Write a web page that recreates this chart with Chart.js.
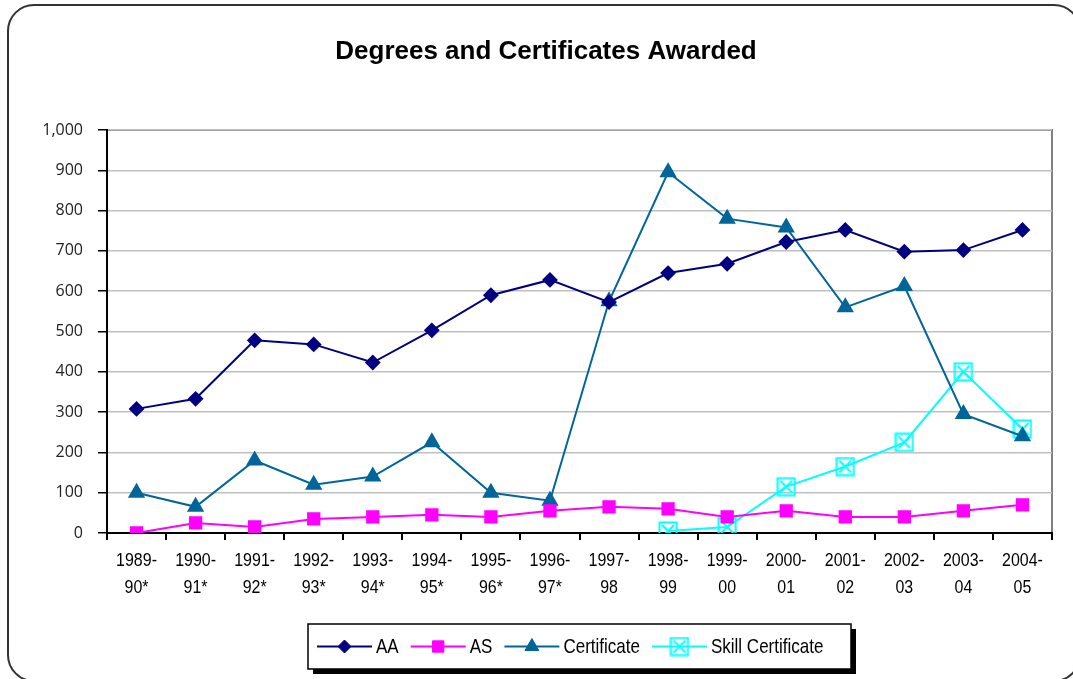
<!DOCTYPE html>
<html>
<head>
<meta charset="utf-8">
<script src="https://cdn.jsdelivr.net/npm/chart.js@4/dist/chart.umd.min.js"></script>
<style>
  html, body { margin: 0; padding: 0; background: #fff; }
  #wrap { width: 1073px; height: 679px; position: relative; }
</style>
</head>
<body>
<div id="wrap"><canvas id="degrees"></canvas></div>
<script>
var years = [["1989-","90*"],["1990-","91*"],["1991-","92*"],["1992-","93*"],["1993-","94*"],
             ["1994-","95*"],["1995-","96*"],["1996-","97*"],["1997-","98"],["1998-","99"],
             ["1999-","00"],["2000-","01"],["2001-","02"],["2002-","03"],["2003-","04"],["2004-","05"]];
var aa = [308, 333, 478, 468, 423, 503, 590, 628, 573, 645, 668, 722, 752, 698, 702, 752];
var as = [0, 25, 15, 35, 40, 45, 40, 55, 65, 60, 40, 55, 40, 40, 55, 70];
var certificate = [100, 65, 180, 120, 140, 225, 100, 80, 575, 895, 780, 758, 560, 613, 295, 240];
var skillCertificate = [null, null, null, null, null, null, null, null, null, 5, 15, 115, 165, 225, 400, 258];

var sans = "'Liberation Sans', Arial, sans-serif";

// hollow cyan box with an X, like the Excel marker
function boxX(size) {
    var c = document.createElement("canvas");
    c.width = size; c.height = size;
    var g = c.getContext("2d");
    g.strokeStyle = "#00FFFF";
    g.lineWidth = 2;
    g.strokeRect(1.5, 1.5, size - 3, size - 3);
    g.beginPath();
    g.moveTo(4, 4); g.lineTo(size - 4, size - 4);
    g.moveTo(size - 4, 4); g.lineTo(4, size - 4);
    g.stroke();
    return c;
}
var skillMarker = boxX(20);

// narrow text: regular sans squeezed sideways
function narrowText(ctx, text, x, y, squeeze, align) {
    var w = ctx.measureText(text).width * squeeze;
    var left = align === "center" ? x - w / 2 : x;
    ctx.save();
    ctx.translate(left, y);
    ctx.scale(squeeze, 1);
    ctx.textAlign = "left";
    ctx.fillText(text, 0, 0);
    ctx.restore();
    return w;
}

var frame = {
    id: "frame",
    beforeDraw: function(chart) {
        var ctx = chart.ctx, a = chart.chartArea;
        ctx.save();
        ctx.strokeStyle = "#333";
        ctx.lineWidth = 2;
        ctx.beginPath();
        ctx.roundRect(8, 5, 1072, 676, 26);
        ctx.stroke();
        // plot area top/right border
        ctx.strokeStyle = "#808080";
        ctx.beginPath();
        ctx.moveTo(a.left, a.top);
        ctx.lineTo(a.right, a.top);
        ctx.lineTo(a.right, a.bottom);
        ctx.stroke();
        // title, centred on the whole frame
        ctx.fillStyle = "#000";
        ctx.font = "bold 26px " + sans;
        ctx.textAlign = "center";
        ctx.textBaseline = "middle";
        ctx.fillText("Degrees and Certificates Awarded", 546, 52);
        ctx.restore();
    },
    afterDraw: function(chart) {
        var ctx = chart.ctx;
        var xs = chart.scales.x;

        // category labels
        ctx.save();
        ctx.fillStyle = "#000";
        ctx.font = "19px " + sans;
        ctx.textBaseline = "middle";
        years.forEach(function(lines, i) {
            var px = xs.getPixelForTick(i);
            narrowText(ctx, lines[0], px, 561, 0.84, "center");
            narrowText(ctx, lines[1], px, 588, 0.84, "center");
        });
        ctx.restore();

        // legend box
        var x0 = 308, y0 = 624, w = 543, h = 45;
        ctx.save();
        ctx.fillStyle = "#000";
        ctx.fillRect(x0 + 5, y0 + 5, w, h);
        ctx.fillStyle = "#fff";
        ctx.fillRect(x0, y0, w, h);
        ctx.strokeStyle = "#000";
        ctx.lineWidth = 1.5;
        ctx.strokeRect(x0, y0, w, h);
        ctx.font = "21px " + sans;
        ctx.textBaseline = "middle";
        var x = x0 + 9, cy = y0 + h / 2;
        chart.data.datasets.forEach(function(ds) {
            ctx.strokeStyle = ds.borderColor;
            ctx.fillStyle = ds.backgroundColor;
            ctx.lineWidth = 2;
            ctx.beginPath();
            ctx.moveTo(x, cy);
            ctx.lineTo(x + 55, cy);
            ctx.stroke();
            ctx.lineWidth = 1;
            Chart.helpers.drawPoint(ctx, {
                pointStyle: ds.pointStyle,
                radius: ds.pointRadius,
                borderWidth: 1,
                rotation: 0
            }, x + 27.5, cy);
            ctx.fillStyle = "#000";
            var tw = narrowText(ctx, ds.label, x + 59, cy + 1, 0.81, "left");
            x += 59 + tw + 12;
        });
        ctx.restore();
    }
};

new Chart(document.getElementById("degrees"), {
    type: "line",
    data: {
        labels: years,
        datasets: [
            {
                label: "AA", data: aa,
                borderColor: "#000080", backgroundColor: "#000080",
                pointStyle: "rectRot", pointRadius: 6.5, borderWidth: 2
            },
            {
                label: "AS", data: as,
                borderColor: "#FF00FF", backgroundColor: "#FF00FF",
                pointStyle: "rect", pointRadius: 8, borderWidth: 2
            },
            {
                label: "Certificate", data: certificate,
                borderColor: "#006699", backgroundColor: "#006699",
                pointStyle: "triangle", pointRadius: 8, borderWidth: 2
            },
            {
                label: "Skill Certificate", data: skillCertificate,
                borderColor: "#00FFFF", backgroundColor: "#00FFFF",
                pointStyle: skillMarker, pointRadius: 10, borderWidth: 2
            }
        ]
    },
    options: {
        responsive: true,
        maintainAspectRatio: false,
        animation: false,
        layout: { padding: { left: 8, right: 21, top: 130, bottom: 0 } },
        elements: { line: { tension: 0 }, point: { borderWidth: 1 } },
        plugins: {
            legend: { display: false },
            tooltip: { enabled: false },
            title: { display: false }
        },
        scales: {
            x: {
                offset: true,
                grid: { offset: true, drawOnChartArea: false, drawTicks: true, tickLength: 7, tickColor: "#000", lineWidth: 2 },
                border: { color: "#000", width: 2 },
                ticks: { display: false, autoSkip: false },
                afterFit: function(s) { s.height = 146; }
            },
            y: {
                min: 0, max: 1000,
                grid: { color: "#c0c0c0", lineWidth: 1.5, tickLength: 9, tickColor: "#000" },
                border: { color: "#000", width: 2 },
                ticks: {
                    stepSize: 100, color: "#222", padding: 15,
                    font: { family: "'Open Sans', 'DejaVu Sans', sans-serif", size: 16 }
                },
                afterFit: function(s) { s.width = 99; }
            }
        }
    },
    plugins: [frame]
});
</script>
</body>
</html>
